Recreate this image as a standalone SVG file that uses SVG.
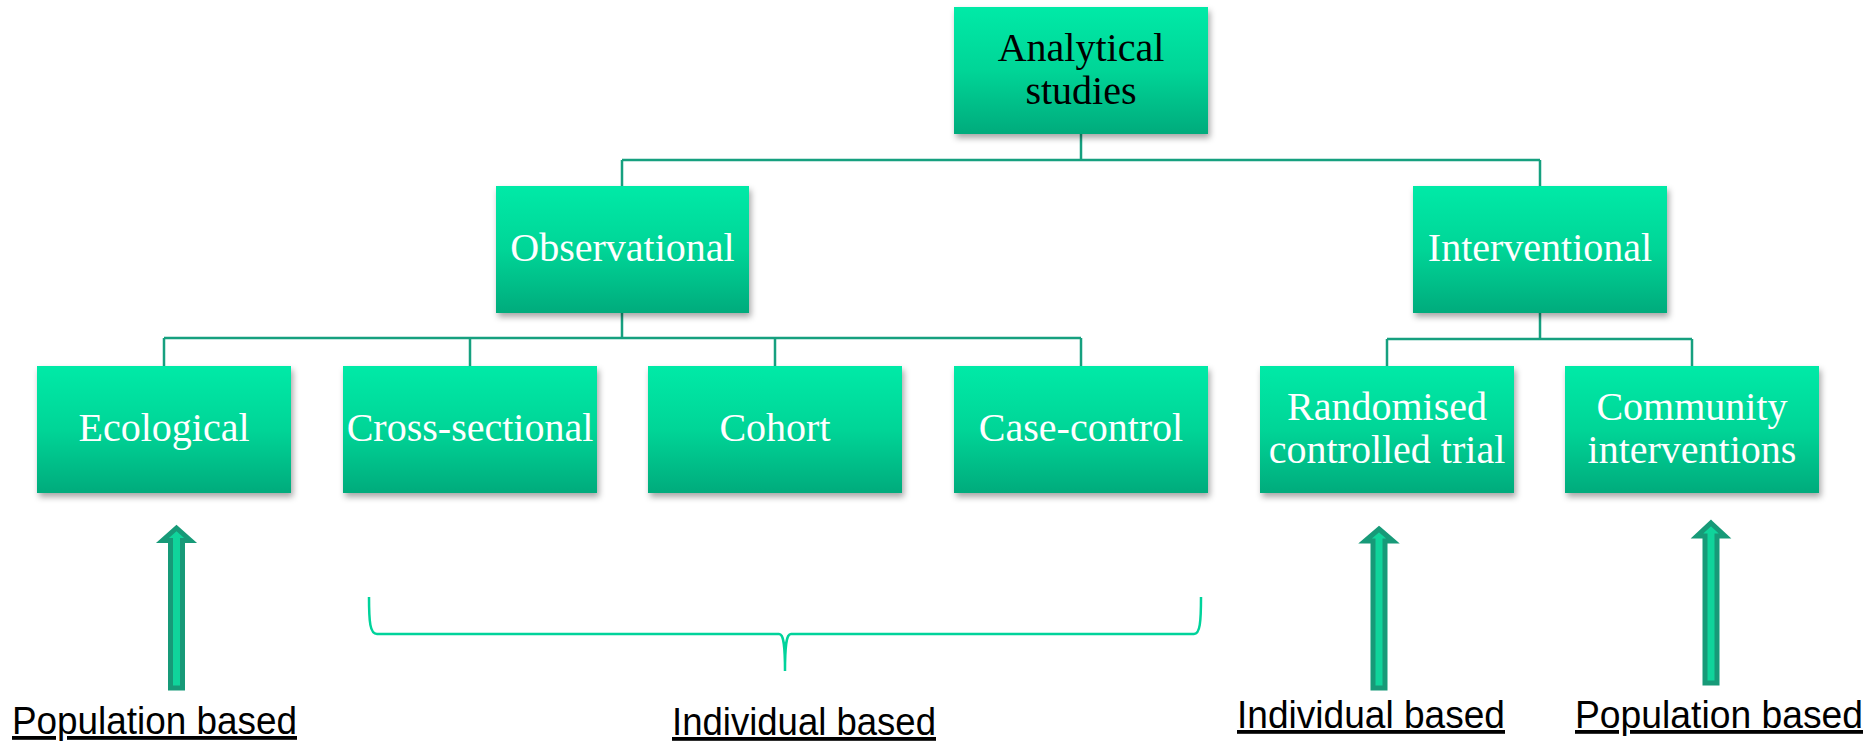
<svg xmlns="http://www.w3.org/2000/svg" width="1870" height="741" viewBox="0 0 1870 741">
  <defs>
    <linearGradient id="boxFill" x1="0" y1="0" x2="0" y2="1">
      <stop offset="0" stop-color="#00eaa7"/>
      <stop offset="0.5" stop-color="#00d597"/>
      <stop offset="1" stop-color="#00ab7c"/>
    </linearGradient>
    <filter id="shadow" x="-10%" y="-10%" width="125%" height="130%">
      <feDropShadow dx="2" dy="4" stdDeviation="3" flood-color="#000" flood-opacity="0.35"/>
    </filter>
  </defs>
  <style>
    .box { fill: url(#boxFill); filter: url(#shadow); }
    .lbl { font-family: "Liberation Serif", "Times New Roman", serif; font-size: 40px; text-anchor: middle; fill: #ffffff; }
    .lbl.dark { fill: #000000; }
    .conn { stroke: #16a07f; stroke-width: 2.5; fill: none; }
    .brace { stroke: #00d39b; stroke-width: 2.5; fill: none; }
    .up { fill: #10d49b; stroke: #179a78; stroke-width: 5; stroke-linejoin: miter; }
    .note { font-family: "Liberation Sans", Arial, sans-serif; font-size: 38px; fill: #000000; text-anchor: middle; text-decoration: underline; }
  </style>
  <rect width="1870" height="741" fill="#ffffff"/>

  <!-- tree connectors -->
  <g id="connectors">
    <path class="conn" d="M1081,134 V160 M622,160 H1540 M622,160 V186 M1540,160 V186"/>
    <path class="conn" d="M622,313 V338 M164,338 H1081 M164,338 V366 M470,338 V366 M775,338 V366 M1081,338 V366"/>
    <path class="conn" d="M1540,313 V339 M1387,339 H1692 M1387,339 V366 M1692,339 V366"/>
  </g>

  <!-- level 1 -->
  <g id="analytical">
    <rect class="box" x="954" y="7" width="254" height="127"/>
    <text class="lbl dark" x="1081" y="61">Analytical</text>
    <text class="lbl dark" x="1081" y="104">studies</text>
  </g>

  <!-- level 2 -->
  <g id="observational">
    <rect class="box" x="496" y="186" width="253" height="127"/>
    <text class="lbl" x="622.5" y="261">Observational</text>
  </g>
  <g id="interventional">
    <rect class="box" x="1413" y="186" width="254" height="127"/>
    <text class="lbl" x="1540" y="261">Interventional</text>
  </g>

  <!-- level 3 -->
  <g id="ecological">
    <rect class="box" x="37" y="366" width="254" height="127"/>
    <text class="lbl" x="164" y="440.5">Ecological</text>
  </g>
  <g id="cross-sectional">
    <rect class="box" x="343" y="366" width="254" height="127"/>
    <text class="lbl" x="470" y="440.5">Cross-sectional</text>
  </g>
  <g id="cohort">
    <rect class="box" x="648" y="366" width="254" height="127"/>
    <text class="lbl" x="775" y="440.5">Cohort</text>
  </g>
  <g id="case-control">
    <rect class="box" x="954" y="366" width="254" height="127"/>
    <text class="lbl" x="1081" y="440.5">Case-control</text>
  </g>
  <g id="rct">
    <rect class="box" x="1260" y="366" width="254" height="127"/>
    <text class="lbl" x="1387" y="420">Randomised</text>
    <text class="lbl" x="1387" y="463">controlled trial</text>
  </g>
  <g id="community">
    <rect class="box" x="1565" y="366" width="254" height="127"/>
    <text class="lbl" x="1692" y="420">Community</text>
    <text class="lbl" x="1692" y="463">interventions</text>
  </g>

  <!-- bottom annotations -->
  <g id="ecological-note">
    <polygon class="up" points="176.5,528 190.5,540.5 182.5,540.5 182.5,688 170.5,688 170.5,540.5 162.5,540.5"/>
    <text class="note" x="154.5" y="734" textLength="285" lengthAdjust="spacingAndGlyphs">Population based</text>
  </g>
  <g id="individual-note">
    <path class="brace" d="M369,597 C369,622 370,634 377,634 L779,634 C784,634 785,646 785,671 C785,646 786,634 791,634 L1194,634 C1200,634 1201,622 1201,597"/>
    <text class="note" x="804" y="735" textLength="264" lengthAdjust="spacingAndGlyphs">Individual based</text>
  </g>
  <g id="rct-note">
    <polygon class="up" points="1379,529 1393,541 1385,541 1385,688 1373,688 1373,541 1365,541"/>
    <text class="note" x="1371" y="728" textLength="268" lengthAdjust="spacingAndGlyphs">Individual based</text>
  </g>
  <g id="community-note">
    <polygon class="up" points="1711,523 1725,536 1717,536 1717,683 1705,683 1705,536 1697,536"/>
    <text class="note" x="1719" y="728" textLength="288" lengthAdjust="spacingAndGlyphs">Population based</text>
  </g>
</svg>
